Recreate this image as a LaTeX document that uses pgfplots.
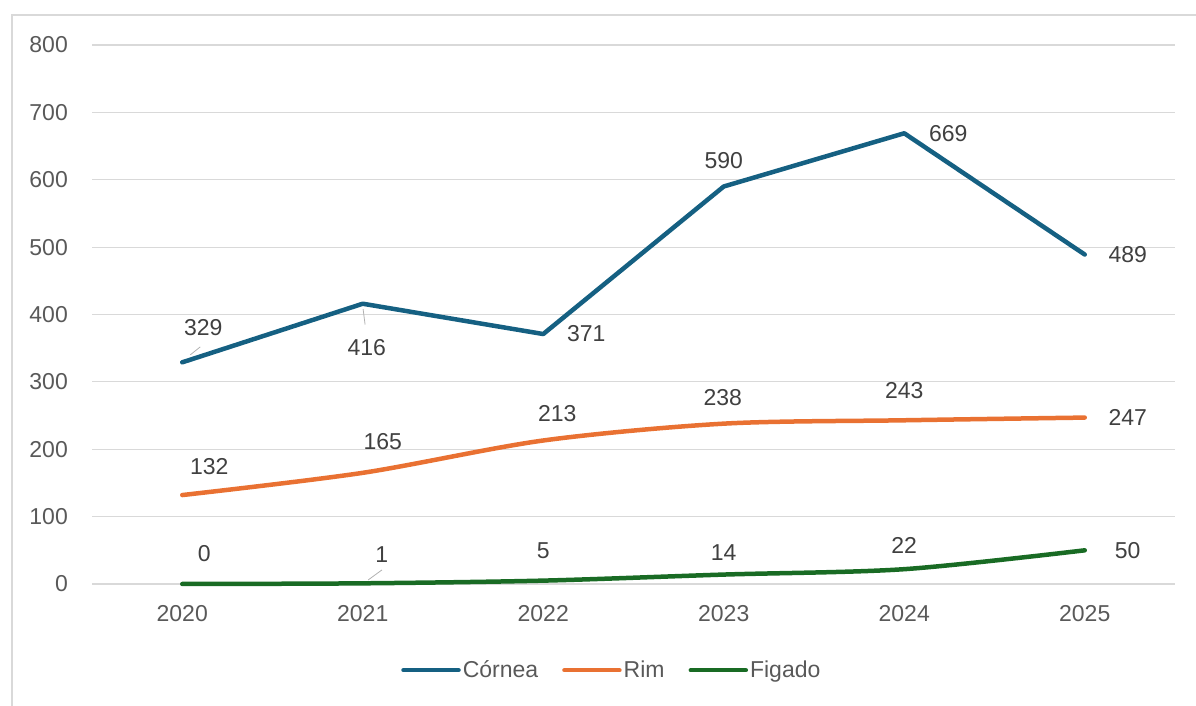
\documentclass[border=0pt]{standalone}
\usepackage{pgfplots}
\pgfplotsset{compat=1.18}
\usepackage{pgfplotstable}
\usepackage{fontspec}
\setmainfont{Liberation Sans}
\definecolor{cor}{HTML}{156082}
\definecolor{rim}{HTML}{E97132}
\definecolor{fig}{HTML}{196B24}
\definecolor{txt}{HTML}{595959}
\definecolor{lab}{HTML}{404040}
\definecolor{grd}{HTML}{D9D9D9}

\pgfplotstableread{
x y dx dy
0 329 21 35
1 416 4 -44
2 371 43 0
3 590 0 26
4 669 44 0
5 489 43 0
}\cornea
\pgfplotstableread{
x y dx dy
0 132 27 28
1 165 20 31
2 213 14 27
3 238 -1 26
4 243 0 30
5 247 43 0
}\rim
\pgfplotstableread{
x y dx dy
0 0 22 30
1 1 19 29
2 5 0 30
3 14 0 22
4 22 0 24
5 50 43 0
}\figado

\pgfplotsset{
  lbl/.style={
    visualization depends on={\thisrow{dx} \as \dx},
    visualization depends on={\thisrow{dy} \as \dy},
    nodes near coords={\pgfmathprintnumber{\pgfplotspointmeta}},
    every node near coord/.append style={anchor=center, xshift=\dx pt, yshift=\dy pt,
      font=\fontsize{23}{27}\selectfont, text=lab},
  }
}

\begin{document}
\begin{tikzpicture}[x=1pt,y=1pt]
\path[use as bounding box] (0,0) rectangle (1196,706);
\draw[grd, line width=1.2pt] (12,0) -- (12,691) -- (1196,691);
\begin{axis}[
  at={(92pt,122pt)}, anchor=south west, scale only axis,
  width=1083pt, height=539pt,
  xmin=-0.5, xmax=5.5, ymin=0, ymax=800,
  xtick={0,1,2,3,4,5}, xticklabels={2020,2021,2022,2023,2024,2025},
  ytick={0,100,...,800},
  ymajorgrids, grid style={grd, line width=1.2pt},
  axis line style={draw=none}, major tick length=0pt,
  tick label style={font=\fontsize{23}{27}\selectfont, text=txt},
  /pgf/number format/assume math mode=true,
  yticklabel style={inner sep=0pt, anchor=east, xshift=-24pt},
  xticklabel style={inner sep=0pt, anchor=north, yshift=-21pt},
  clip=false,
  legend columns=3,
  legend style={at={(0.48,-0.16)}, anchor=center, draw=none, fill=none,
    font=\fontsize{23}{27}\selectfont, text=txt,
    /tikz/every even column/.append style={column sep=22pt}},
  legend image code/.code={\draw[#1, line width=4.5pt, line cap=round] (0pt,0pt) -- (55pt,0pt);},
]
\addplot[cor, line width=4.5pt, line cap=round, line join=round, lbl] table[x=x, y=y, meta=y] {\cornea};
\addlegendentry{Córnea}
\addplot[rim, line width=4.5pt, line cap=round, smooth, lbl] table[x=x, y=y, meta=y] {\rim};
\addlegendentry{Rim}
\addplot[fig, line width=4.5pt, line cap=round, smooth, lbl] table[x=x, y=y, meta=y] {\figado};
\addlegendentry{Figado}
\draw[gray!60, line width=0.8pt] (axis cs:0.044,340) -- (axis cs:0.1,352);
\draw[gray!60, line width=0.8pt] (axis cs:1.002,408) -- (axis cs:1.013,385);
\draw[gray!60, line width=0.8pt] (axis cs:1.03,6) -- (axis cs:1.107,21);
\end{axis}
\end{tikzpicture}
\end{document}
